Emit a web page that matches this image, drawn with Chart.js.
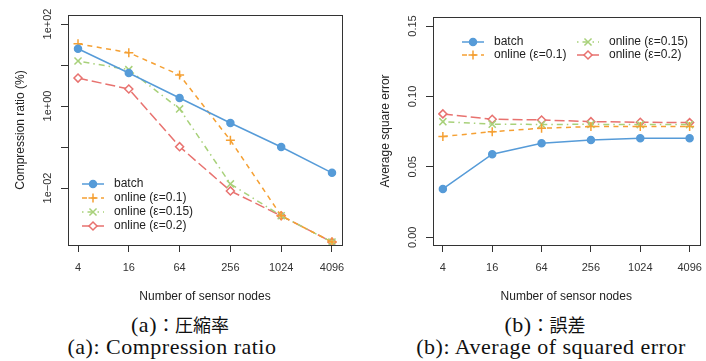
<!DOCTYPE html>
<html>
<head>
<meta charset="utf-8">
<script src="https://cdn.jsdelivr.net/npm/chart.js@4.4.1/dist/chart.umd.min.js"></script>
<style>
  body { margin: 0; background: #fff; width: 706px; height: 361px; overflow: hidden; position: relative; }
  .panel { position: absolute; top: 0; }
  .cap { position: absolute; white-space: nowrap; font-family: "Liberation Serif", serif; font-size: 22px; letter-spacing: 0.5px; color: #111; transform: translate(-50%, -50%); }
  .jp { font-family: "Noto Sans CJK JP", sans-serif; font-size: 18px; letter-spacing: 0; }
</style>
</head>
<body>
<div class="panel" style="left:0"><canvas id="ratioChart" width="353" height="310"></canvas></div>
<div class="panel" style="left:353px"><canvas id="errorChart" width="353" height="310"></canvas></div>
<div class="cap" style="left:180px; top:324px">(a)<span class="jp">：圧縮率</span></div>
<div class="cap" style="left:172px; top:347px">(a): Compression ratio</div>
<div class="cap" style="left:545px; top:324px">(b)<span class="jp">：誤差</span></div>
<div class="cap" style="left:551px; top:347px">(b): Average of squared error</div>
<script>
// x values (number of sensor nodes)
const nodes = [4, 16, 64, 256, 1024, 4096];

// compression ratio (%)
const ratioBatch = [25, 6.4, 1.57, 0.385, 0.1, 0.0235];
const ratioOnline01 = [33, 20, 5.7, 0.146, 0.0021, 0.00048];
const ratioOnline015 = [12.5, 7.7, 0.85, 0.0126, 0.0021, 0.00048];
const ratioOnline02 = [4.8, 2.6, 0.102, 0.0085, 0.0021, 0.00048];

// average square error
const errBatch = [0.0343, 0.059, 0.0668, 0.0691, 0.0703, 0.0703];
const errOnline01 = [0.0715, 0.075, 0.0774, 0.0786, 0.0786, 0.0787];
const errOnline015 = [0.0821, 0.0803, 0.0801, 0.0802, 0.0800, 0.0800];
const errOnline02 = [0.0876, 0.0838, 0.0833, 0.0821, 0.0817, 0.0814];

const seriesNames = ['batch', 'online (\u03b5=0.1)', 'online (\u03b5=0.15)', 'online (\u03b5=0.2)'];

// y ticks
const ratioTicks = [0.01, 0.1, 1, 10, 100];
const ratioTickLabels = ['1e\u221202', '', '1e+00', '', '1e+02'];
const errTicks = [0, 0.05, 0.10, 0.15];
const errTickLabels = ['0.00', '0.05', '0.10', '0.15'];

const ink = '#333';
const sans = '"Liberation Sans", Arial, sans-serif';

const styles = [
  { color: '#569bd8', dash: [], pointStyle: 'circle', radius: 3.5, fill: '#569bd8' },
  { color: '#f5a033', dash: [5, 4.5], pointStyle: 'cross', radius: 4.5, fill: '#f5a033' },
  { color: '#a8d17a', dash: [1.5, 4, 6, 4], pointStyle: 'crossRot', radius: 5, fill: '#a8d17a' },
  { color: '#e8726f', dash: [10, 4], pointStyle: 'rectRot', radius: 4, fill: '#fff' }
];

function makeSets(lists) {
  return lists.map((vals, i) => ({
    label: seriesNames[i],
    data: vals.map((v, k) => ({ x: nodes[k], y: v })),
    borderColor: styles[i].color,
    backgroundColor: styles[i].fill,
    borderDash: styles[i].dash,
    borderWidth: 1.5,
    pointStyle: styles[i].pointStyle,
    pointRadius: styles[i].radius,
    pointBorderWidth: 1.5,
    pointBorderColor: styles[i].color,
    pointBackgroundColor: styles[i].fill,
    tension: 0
  }));
}

function drawMarker(ctx, style, x, y, r) {
  ctx.beginPath();
  if (style === 'circle') {
    ctx.arc(x, y, r, 0, Math.PI * 2);
    ctx.fill(); ctx.stroke();
  } else if (style === 'cross') {
    ctx.moveTo(x - r, y); ctx.lineTo(x + r, y);
    ctx.moveTo(x, y - r); ctx.lineTo(x, y + r);
    ctx.stroke();
  } else if (style === 'crossRot') {
    const d = r * Math.SQRT1_2;
    ctx.moveTo(x - d, y - d); ctx.lineTo(x + d, y + d);
    ctx.moveTo(x - d, y + d); ctx.lineTo(x + d, y - d);
    ctx.stroke();
  } else {
    ctx.moveTo(x, y - r); ctx.lineTo(x + r, y); ctx.lineTo(x, y + r); ctx.lineTo(x - r, y);
    ctx.closePath();
    ctx.fill(); ctx.stroke();
  }
}

// frame, rotated y tick labels and the R-like legend
const frame = {
  id: 'frame',
  afterDraw(chart, args, opts) {
    const ctx = chart.ctx;
    const a = chart.chartArea;
    ctx.save();
    ctx.strokeStyle = ink;
    ctx.lineWidth = 1;
    ctx.strokeRect(Math.round(a.left) + 0.5, Math.round(a.top) + 0.5,
      Math.round(a.right - a.left), Math.round(a.bottom - a.top));

    const ys = chart.scales.y;
    ctx.fillStyle = ink;
    ctx.font = '11px ' + sans;
    ctx.textAlign = 'center';
    ctx.textBaseline = 'middle';
    opts.ticks.forEach((v, i) => {
      if (!opts.labels[i]) return;
      const py = ys.getPixelForValue(v);
      ctx.save();
      ctx.translate(a.left - 20, py);
      ctx.rotate(-Math.PI / 2);
      ctx.fillText(opts.labels[i], 0, 0);
      ctx.restore();
    });

    ctx.font = '12px ' + sans;
    ctx.textAlign = 'left';
    chart.data.datasets.forEach((ds, i) => {
      const p = opts.legend[i];
      ctx.strokeStyle = ds.borderColor;
      ctx.fillStyle = ds.pointBackgroundColor;
      ctx.lineWidth = 1.5;
      ctx.setLineDash(ds.borderDash);
      ctx.beginPath();
      ctx.moveTo(p[0], p[1]); ctx.lineTo(p[0] + 22, p[1]);
      ctx.stroke();
      ctx.setLineDash([]);
      drawMarker(ctx, ds.pointStyle, p[0] + 11, p[1], ds.pointRadius);
      ctx.fillStyle = '#222';
      ctx.fillText(ds.label, p[0] + 32, p[1]);
    });
    ctx.restore();
  }
};

function xAxis(min, max) {
  return {
    type: 'logarithmic',
    min: min, max: max,
    afterBuildTicks: s => { s.ticks = nodes.map(v => ({ value: v })); },
    afterFit: s => { s.height = 65; s.paddingLeft = 0; s.paddingRight = 0; },
    border: { display: false },
    grid: { drawOnChartArea: false, drawTicks: true, tickLength: 7, color: ink },
    ticks: { color: ink, font: { size: 11, family: sans }, padding: 9, maxRotation: 0, callback: v => String(v) },
    title: { display: true, text: 'Number of sensor nodes', color: '#222', font: { size: 12, family: sans }, padding: { top: 0, bottom: 6 } }
  };
}

function yAxis(type, min, max, ticks, width, titleText, titlePad) {
  return {
    type: type,
    min: min, max: max,
    afterBuildTicks: s => { s.ticks = ticks.map(v => ({ value: v })); },
    afterFit: s => { s.width = width; },
    border: { display: false },
    grid: { drawOnChartArea: false, drawTicks: true, tickLength: 7, color: ink },
    ticks: { display: false },
    title: { display: true, text: titleText, color: '#222', font: { size: 12, family: sans }, padding: { top: titlePad, bottom: 0 } }
  };
}

const common = {
  responsive: false,
  animation: false,
  plugins: { legend: { display: false }, tooltip: { enabled: false } }
};

new Chart(document.getElementById('ratioChart'), {
  type: 'line',
  data: { datasets: makeSets([ratioBatch, ratioOnline01, ratioOnline015, ratioOnline02]) },
  options: {
    ...common,
    layout: { padding: { top: 15, right: 11, left: 0, bottom: 0 } },
    scales: {
      x: xAxis(Math.pow(2, 1.606), Math.pow(2, 12.394)),
      y: yAxis('logarithmic', Math.pow(10, -3.39), Math.pow(10, 2.22), ratioTicks, 68, 'Compression ratio (%)', 13)
    },
    plugins: {
      ...common.plugins,
      frame: { ticks: ratioTicks, labels: ratioTickLabels, legend: [[82, 184], [82, 198], [82, 212], [82, 226]] }
    }
  },
  plugins: [frame]
});

new Chart(document.getElementById('errorChart'), {
  type: 'line',
  data: { datasets: makeSets([errBatch, errOnline01, errOnline015, errOnline02]) },
  options: {
    ...common,
    layout: { padding: { top: 17, right: 3, left: 0, bottom: 0 } },
    scales: {
      x: xAxis(Math.pow(2, 1.6), Math.pow(2, 12.4)),
      y: yAxis('linear', -0.0055, 0.1564, errTicks, 80, 'Average square error', 25)
    },
    plugins: {
      ...common.plugins,
      frame: { ticks: errTicks, labels: errTickLabels, legend: [[109, 42], [109, 55], [224, 42], [224, 55]] }
    }
  },
  plugins: [frame]
});
</script>
</body>
</html>
